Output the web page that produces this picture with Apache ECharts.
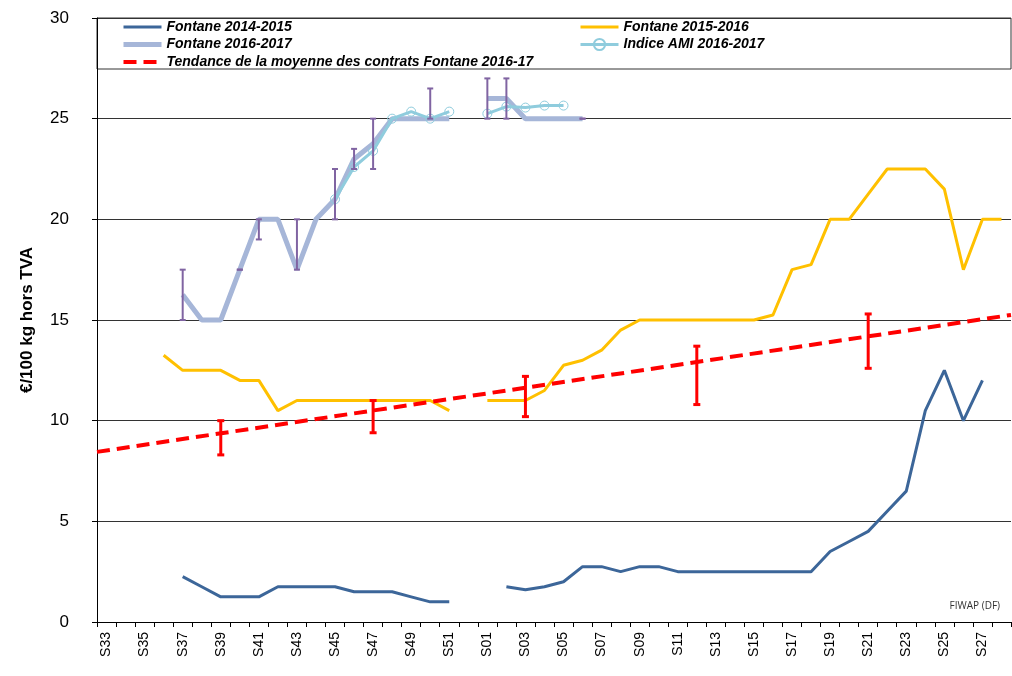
<!DOCTYPE html>
<html>
<head>
<meta charset="utf-8">
<script src="https://cdn.jsdelivr.net/npm/echarts@6/dist/echarts.min.js"></script>
<style>
  html, body { margin: 0; padding: 0; background: #fff; }
  #main { width: 1012px; height: 676px; }
</style>
</head>
<body>
<div id="main"></div>
<script>
// semaines S33..S52 puis S01..S28
var semaines = ['S33','S34','S35','S36','S37','S38','S39','S40','S41','S42','S43','S44','S45','S46','S47','S48','S49','S50','S51','S52',
    'S01','S02','S03','S04','S05','S06','S07','S08','S09','S10','S11','S12','S13','S14','S15','S16','S17','S18','S19','S20',
    'S21','S22','S23','S24','S25','S26','S27','S28'];

var fontane1415 = [null,null,null,null,2.25,1.75,1.25,1.25,1.25,1.75,1.75,1.75,1.75,1.5,1.5,1.5,1.25,1.0,1.0,null,
    null,1.75,1.6,1.75,2.0,2.75,2.75,2.5,2.75,2.75,2.5,2.5,2.5,2.5,2.5,2.5,2.5,2.5,3.5,4.0,
    4.5,5.5,6.5,10.5,12.5,10.0,12.0,null];

var fontane1516 = [null,null,null,13.25,12.5,12.5,12.5,12,12,10.5,11,11,11,11,11,11,11,11,10.5,null,
    11,11,11,11.5,12.75,13,13.5,14.5,15,15,15,15,15,15,15,15.25,17.5,17.75,20,20,
    21.25,22.5,22.5,22.5,21.5,17.5,20,20];

var fontane1617 = [null,null,null,null,16.25,15,15,17.5,20,20,17.5,20,21,23,23.75,25,25,25,25,null,
    26,26,25,25,25,25,null,null,null,null,null,null,null,null,null,null,null,null,null,null,
    null,null,null,null,null,null,null,null];

var indiceAMI = [null,null,null,null,null,null,null,null,null,null,null,null,21,22.6,23.4,25,25.35,25,25.35,null,
    25.25,25.6,25.55,25.65,25.65,null,null,null,null,null,null,null,null,null,null,null,null,null,null,null,
    null,null,null,null,null,null,null,null];

// barres d'erreur Fontane 2016-2017 : [index semaine, min, max]
var erreurs1617 = [[4,15,17.5],[7,17.5,17.5],[8,19,20],[10,17.5,20],[12,20,22.5],[13,22.5,23.5],[14,22.5,25],
    [17,25,26.5],[20,25,27],[21,25,27],[25,25,25]];

// tendance : extrémités (axe 0..48 semaines)
var tendance = [[0,8.45],[48,15.25]];
var erreursTendance = [[6,8.3,10.0],[14,9.4,11.0],[22,10.2,12.2],[31,10.8,13.7],[40,12.6,15.3]];

var yTicks = [0,5,10,15,20,25,30];

var noms = ['Fontane 2014-2015','Fontane 2015-2016','Fontane 2016-2017','Indice AMI 2016-2017',
    'Tendance de la moyenne des contrats Fontane 2016-17'];

function errorBar(cap, width, color) {
    return function (params, api) {
        var i = api.value(0);
        var lo = api.coord([i, api.value(1)]);
        var hi = api.coord([i, api.value(2)]);
        var st = { stroke: color, lineWidth: width };
        return {
            type: 'group',
            children: [
                { type: 'line', shape: { x1: lo[0], y1: lo[1], x2: hi[0], y2: hi[1] }, style: st },
                { type: 'line', shape: { x1: lo[0] - cap, y1: lo[1], x2: lo[0] + cap, y2: lo[1] }, style: st },
                { type: 'line', shape: { x1: hi[0] - cap, y1: hi[1], x2: hi[0] + cap, y2: hi[1] }, style: st }
            ]
        };
    };
}

// entrée de légende sans symbole (trait seul)
function sansSymbole(nom, largeur) {
    return { name: nom, itemStyle: { opacity: 0 }, lineStyle: { width: largeur } };
}

var legendText = { fontFamily: 'Liberation Sans, Arial', fontSize: 14, fontWeight: 'bold', fontStyle: 'italic', color: '#000' };

var myChart = echarts.init(document.getElementById('main'));
var option = {
    animation: false,
    backgroundColor: '#fff',
    grid: { left: 97, right: 1, top: 18, bottom: 54 },
    legend: [
        {
            data: [sansSymbole(noms[0], 3), sansSymbole(noms[2], 5), sansSymbole(noms[4], 4)],
            orient: 'vertical', left: 121, top: 20, padding: 0,
            itemWidth: 38, itemHeight: 14, itemGap: 3.5,
            textStyle: legendText
        },
        {
            data: [sansSymbole(noms[1], 3), { name: noms[3], lineStyle: { width: 3 } }],
            orient: 'vertical', left: 579, top: 20, padding: 0,
            itemWidth: 38, itemHeight: 14, itemGap: 3.5,
            textStyle: legendText
        }
    ],
    graphic: [
        { type: 'rect', shape: { x: 97, y: 18, width: 914, height: 51 }, style: { fill: 'none', stroke: '#333', lineWidth: 1 } },
        { type: 'text', right: 12, top: 601, style: { text: 'FIWAP (DF)', fontFamily: 'Open Sans', fontSize: 10, fill: '#333' } }
    ],
    xAxis: [
        {
            type: 'category',
            data: semaines,
            boundaryGap: true,
            axisLine: { lineStyle: { color: '#000', width: 1 } },
            axisTick: { show: true, interval: 0, length: 5, lineStyle: { color: '#000' } },
            axisLabel: { interval: 1, rotate: 90, margin: 10, fontSize: 14, color: '#000', fontFamily: 'Liberation Sans, Arial' },
            splitLine: { show: false }
        },
        { type: 'value', min: 0, max: 48, show: false }
    ],
    yAxis: {
        type: 'value',
        min: yTicks[0], max: yTicks[yTicks.length - 1], interval: 5,
        name: '€/100 kg hors TVA',
        nameLocation: 'middle', nameGap: 61,
        nameTextStyle: { fontFamily: 'Liberation Sans, Arial', fontSize: 17, fontWeight: 'bold', color: '#000' },
        axisLine: { show: true, lineStyle: { color: '#000', width: 1 } },
        axisTick: { show: true, length: 5, lineStyle: { color: '#000' } },
        axisLabel: { margin: 28, fontSize: 17, color: '#000', fontFamily: 'Liberation Sans, Arial' },
        splitLine: { lineStyle: { color: '#333', width: 1 } }
    },
    series: [
        {
            name: noms[0], type: 'line', data: fontane1415, symbol: 'none',
            lineStyle: { color: '#3C6699', width: 3 }, itemStyle: { color: '#3C6699' }, z: 3
        },
        {
            name: noms[1], type: 'line', data: fontane1516, symbol: 'none',
            lineStyle: { color: '#FFC000', width: 3 }, itemStyle: { color: '#FFC000' }, z: 3
        },
        {
            name: noms[2], type: 'line', data: fontane1617, symbol: 'none',
            lineStyle: { color: '#A6B6D8', width: 5 }, itemStyle: { color: '#A6B6D8' }, z: 3
        },
        {
            name: noms[3], type: 'line', data: indiceAMI, symbol: 'circle', symbolSize: 9, showSymbol: true,
            lineStyle: { color: '#8FCCDD', width: 3 },
            itemStyle: { color: 'rgba(255,255,255,0)', borderColor: '#8FCCDD', borderWidth: 1 }, z: 4
        },
        {
            name: noms[4], type: 'line', xAxisIndex: 1, data: tendance, symbol: 'none',
            lineStyle: { color: '#FF0000', width: 4, type: [13, 7] }, itemStyle: { color: '#FF0000' }, z: 3
        },
        {
            type: 'custom', data: erreurs1617, renderItem: errorBar(3, 2, '#8064A2'),
            encode: { x: 0, y: [1, 2] }, z: 5
        },
        {
            type: 'custom', data: erreursTendance, renderItem: errorBar(3.5, 3, '#FF0000'),
            encode: { x: 0, y: [1, 2] }, z: 5
        }
    ]
};
myChart.setOption(option);
</script>
</body>
</html>
